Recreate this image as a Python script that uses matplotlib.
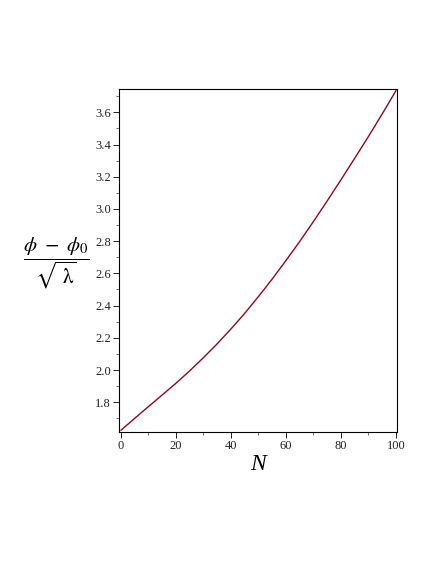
import matplotlib
matplotlib.use("Agg")
import matplotlib.pyplot as plt
from matplotlib.ticker import MultipleLocator

# values
N = [0, 5, 10, 15, 20, 25, 30, 35, 40, 45, 50, 55, 60, 65, 70, 75, 80, 85, 90, 95, 100]
PHI = [1.626, 1.700, 1.773, 1.845, 1.918, 1.995, 2.077, 2.163, 2.255, 2.352, 2.456,
       2.565, 2.680, 2.798, 2.922, 3.050, 3.181, 3.315, 3.450, 3.590, 3.734]
XTICKS = [0, 20, 40, 60, 80, 100]
YTICKS = [1.8, 2.0, 2.2, 2.4, 2.6, 2.8, 3.0, 3.2, 3.4, 3.6]

plt.rcParams["mathtext.fontset"] = "stix"
plt.rcParams["font.family"] = ["Liberation Serif", "DejaVu Serif"]

fig = plt.figure(figsize=(4.36, 5.64), dpi=100)
ax = fig.add_axes([0.2737, 0.2346, 0.6376, 0.6071])
ax.plot(N, PHI, color="#8a0a1e", lw=1.0)
ax.set_xlim(-0.6, 100.5)
ax.set_ylim(1.617, 3.743)
ax.set_xticks(XTICKS)
ax.set_yticks(YTICKS)
ax.set_yticklabels([f"{v:.1f}" for v in YTICKS])
ax.xaxis.set_minor_locator(MultipleLocator(10))
ax.yaxis.set_minor_locator(MultipleLocator(0.1))
ax.tick_params(which="major", direction="out", length=4, width=0.7, labelsize=9, pad=2, colors="#222222")
ax.tick_params(which="minor", direction="out", length=2.5, width=0.6, colors="#555555")
for s in ax.spines.values():
    s.set_linewidth(0.8)

fig.text(258 / 436, 1 - 464 / 564, "N", fontsize=17, style="italic", ha="center", va="center")
fig.text(56 / 436, 1 - 263 / 564, r"$\dfrac{\phi\ -\ \phi_{\mathit{0}}}{\sqrt{\ \mathrm{λ}}}$",
         fontsize=15, ha="center", va="center")

fig.savefig("out.png", dpi=100)
